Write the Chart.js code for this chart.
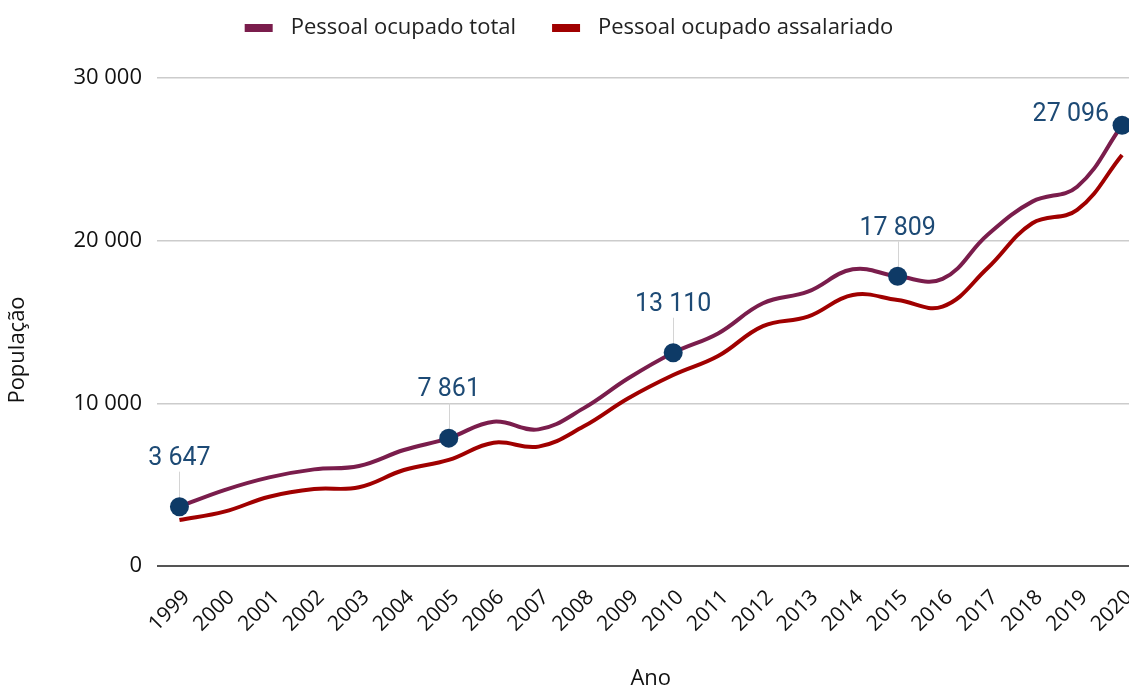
<!DOCTYPE html>
<html>
<head>
<meta charset="utf-8">
<script src="https://cdn.jsdelivr.net/npm/chart.js@4"></script>
<style>
  html, body { margin: 0; padding: 0; background: #fff; overflow: hidden; }
  #wrap { width: 1154px; height: 686px; position: relative; }
</style>
</head>
<body>
<div id="wrap"><canvas id="c"></canvas></div>
<script>
const years = ['1999','2000','2001','2002','2003','2004','2005','2006','2007','2008','2009','2010','2011','2012','2013','2014','2015','2016','2017','2018','2019','2020'];
const pessoalTotal = [3647, 4670, 5450, 5940, 6150, 7130, 7861, 8870, 8400, 9690, 11540, 13110, 14300, 16150, 16860, 18240, 17809, 17650, 20350, 22400, 23320, 27096];
const pessoalAssalariado = [2830, 3340, 4260, 4730, 4840, 5900, 6520, 7580, 7340, 8570, 10310, 11740, 12910, 14750, 15330, 16660, 16350, 15950, 18300, 21070, 21890, 25270];
const labeledYears = ['1999', '2005', '2010', '2015', '2020'];
const yTicks = [0, 10000, 20000, 30000];
const seriesNames = ['Pessoal ocupado total', 'Pessoal ocupado assalariado'];
const seriesColors = ['#7a1d4c', '#a00000'];
const yTitle = 'População';
const xTitle = 'Ano';

const fmt = v => String(Math.round(v)).replace(/\B(?=(\d{3})+(?!\d))/g, ' ');
const labeledIdx = labeledYears.map(y => years.indexOf(y));

// legend swatch images: transparent margin, 28x8 box, transparent gap before text
const SW_L = 21, SW_BOX = 28, SW_R = 7, SW_H = 8;
const swatches = seriesColors.map(col => {
  const cv = document.createElement('canvas');
  cv.width = SW_L + SW_BOX + SW_R; cv.height = SW_H;
  const g = cv.getContext('2d');
  g.fillStyle = col;
  g.fillRect(SW_L, 0, SW_BOX, SW_H);
  return cv;
});

const legendTweak = {
  id: 'legendTweak',
  beforeInit(chart) {
    const lg = chart.legend;
    if (lg) {
      const fit = lg.fit;
      lg.fit = function() { fit.call(this); this.height = 78; };
      const draw = lg.draw;
      lg.draw = function() {
        const ctx = this.ctx;
        ctx.save();
        ctx.translate(-17, 2);
        draw.apply(this, arguments);
        ctx.restore();
      };
    }
  }
};

const extras = {
  id: 'extras',
  beforeDatasetsDraw(chart) {
    const meta = chart.getDatasetMeta(0);
    const ctx = chart.ctx;
    ctx.save();
    ctx.strokeStyle = '#d4d4d4';
    ctx.lineWidth = 1;
    labeledIdx.forEach((i, k) => {
      if (k === labeledIdx.length - 1) return;
      const el = meta.data[i];
      ctx.beginPath();
      ctx.moveTo(Math.round(el.x) + 0.5, el.y - 35);
      ctx.lineTo(Math.round(el.x) + 0.5, el.y);
      ctx.stroke();
    });
    ctx.restore();
  },
  afterDatasetsDraw(chart) {
    const meta = chart.getDatasetMeta(0);
    const ctx = chart.ctx;
    ctx.save();
    ctx.font = '25px Roboto';
    ctx.fillStyle = '#1d4a75';
    ctx.textBaseline = 'middle';
    labeledIdx.forEach((i, k) => {
      const el = meta.data[i];
      const text = fmt(pessoalTotal[i]);
      if (k === labeledIdx.length - 1) {
        ctx.textAlign = 'right';
        ctx.fillText(text, el.x - 13, el.y - 10);
      } else {
        ctx.textAlign = 'center';
        ctx.fillText(text, el.x, el.y - 48);
      }
    });
    ctx.restore();
  },
  afterDraw(chart) {
    const ctx = chart.ctx;
    ctx.save();
    ctx.translate(18, 350);
    ctx.rotate(-Math.PI / 2);
    ctx.font = '22px "Open Sans"';
    ctx.fillStyle = '#111';
    ctx.textAlign = 'center';
    ctx.textBaseline = 'middle';
    ctx.fillText(yTitle, 0, 0);
    ctx.restore();
  }
};

const pointR = years.map((y, i) => labeledIdx.includes(i) ? 9.5 : 0);

new Chart(document.getElementById('c'), {
  type: 'line',
  data: {
    labels: years,
    datasets: [
      {
        label: seriesNames[0],
        data: pessoalTotal,
        borderColor: seriesColors[0],
        backgroundColor: seriesColors[0],
        borderWidth: 4,
        tension: 0.4,
        pointRadius: pointR,
        pointHoverRadius: pointR,
        pointBackgroundColor: '#0e3a66',
        pointBorderWidth: 0,
        clip: false
      },
      {
        label: seriesNames[1],
        data: pessoalAssalariado,
        borderColor: seriesColors[1],
        backgroundColor: seriesColors[1],
        borderWidth: 4,
        tension: 0.4,
        pointRadius: 0,
        pointHoverRadius: 0,
        clip: false
      }
    ]
  },
  options: {
    responsive: true,
    maintainAspectRatio: false,
    animation: false,
    events: [],
    layout: { padding: { left: 0, right: 3, top: 0, bottom: 0 } },
    plugins: {
      tooltip: { enabled: false },
      legend: {
        display: true,
        position: 'top',
        align: 'center',
        labels: {
          usePointStyle: true,
          pointStyleWidth: SW_L + SW_BOX + SW_R,
          boxHeight: SW_H,
          padding: 15,
          color: '#222',
          font: { family: 'Open Sans', size: 22 },
          generateLabels: chart => Chart.defaults.plugins.legend.labels.generateLabels(chart)
            .map((l, i) => Object.assign(l, { pointStyle: swatches[i] }))
        }
      }
    },
    scales: {
      x: {
        type: 'category',
        offset: true,
        afterFit: s => { s.height = 120; s.paddingRight = 0; s.paddingLeft = 0; },
        grid: { display: false, drawTicks: false },
        border: { display: false },
        ticks: {
          color: '#111',
          font: { family: 'Open Sans', size: 21 },
          minRotation: 45,
          maxRotation: 45,
          autoSkip: false,
          padding: 19,
          labelOffset: 7
        },
        title: {
          display: true,
          text: xTitle,
          color: '#111',
          font: { family: 'Open Sans', size: 22, lineHeight: 1 },
          padding: { top: 0, bottom: -4 }
        }
      },
      y: {
        min: 0,
        max: 30000,
        afterFit: s => { s.width = 157; },
        afterBuildTicks: s => { s.ticks = yTicks.map(v => ({ value: v })); },
        grid: {
          drawTicks: false,
          color: c => c.tick && c.tick.value === 0 ? '#555' : '#cccccc',
          lineWidth: c => c.tick && c.tick.value === 0 ? 2 : 1.5
        },
        border: { display: false },
        ticks: {
          color: '#111',
          font: { family: 'Open Sans', size: 22 },
          padding: 15,
          callback: v => fmt(v)
        },
        title: { display: false }
      }
    }
  },
  plugins: [legendTweak, extras]
});
</script>
</body>
</html>
